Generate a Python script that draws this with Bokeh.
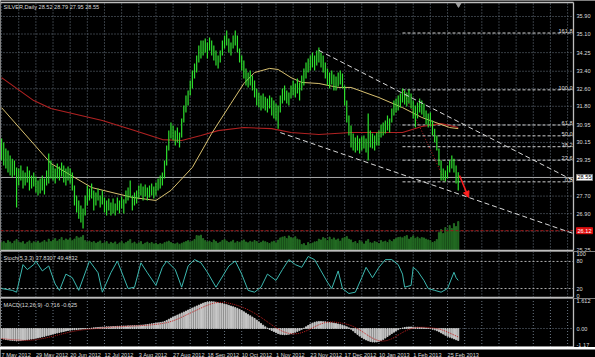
import numpy as np
from bokeh.plotting import figure
from bokeh.models import Range1d, Label, Arrow, NormalHead
from bokeh.layouts import column
from bokeh.embed import file_html
from bokeh.resources import INLINE
from bokeh.core.properties import value

# ---------------- data ----------------
TITLE = "SILVER,Daily 28.52 28.79 27.95 28.55"
STOCH_TITLE = "Stoch(5,3,3) 37.8307 49.4832"
MACD_TITLE = "MACD(12,26,9) -0.716 -0.625"

DATE_LABELS = ["7 May 2012", "29 May 2012", "20 Jun 2012", "12 Jul 2012", "3 Aug 2012",
               "27 Aug 2012", "18 Sep 2012", "10 Oct 2012", "1 Nov 2012", "23 Nov 2012",
               "17 Dec 2012", "10 Jan 2013", "1 Feb 2013", "25 Feb 2013"]
DATE_BARS = [0, 16, 32, 48, 64, 80, 96, 112, 128, 144, 160, 176, 192, 208]

HIGH = [30.33, 30.15, 29.87, 29.78, 29.55, 29.41, 29.32, 29.01, 28.96, 29.10,
        28.87, 28.78, 29.05, 28.87, 28.64, 28.78, 28.60, 28.41, 28.50, 28.64,
        28.50, 28.87, 29.64, 29.32, 29.10, 28.96, 29.19, 29.05, 29.23, 29.10,
        28.96, 29.05, 28.96, 28.78, 28.18, 27.73, 27.50, 27.27, 27.13, 27.73,
        28.18, 28.05, 28.27, 27.95, 27.86, 28.05, 27.73, 27.95, 27.64, 27.50,
        27.59, 27.41, 27.59, 27.36, 27.64, 27.50, 27.68, 27.55, 27.95, 28.09,
        28.41, 27.73, 27.86, 27.95, 28.18, 28.27, 28.14, 28.23, 28.09, 28.18,
        28.27, 28.14, 28.32, 28.50, 28.64, 28.78, 29.32, 30.01, 30.69, 31.06,
        30.92, 30.69, 30.83, 30.60, 31.24, 31.84, 32.29, 32.52, 32.98, 33.43,
        33.75, 34.12, 34.58, 34.80, 34.80, 34.90, 34.71, 34.94, 34.80, 34.58,
        34.35, 34.12, 34.35, 34.80, 35.03, 35.26, 34.90, 34.71, 35.03, 35.26,
        35.03, 34.44, 34.12, 33.89, 33.52, 33.34, 33.43, 33.21, 32.98, 32.61,
        32.43, 32.29, 32.38, 32.24, 32.15, 32.29, 32.20, 32.06, 31.93, 31.84,
        32.29, 32.61, 32.75, 32.52, 32.43, 32.75, 32.98, 32.84, 33.07, 32.89,
        33.21, 33.52, 33.80, 33.98, 34.12, 34.26, 34.12, 34.35, 34.48, 34.26,
        34.12, 33.80, 33.52, 33.34, 33.43, 33.25, 33.16, 33.34, 33.43, 33.30,
        32.75, 32.06, 31.38, 30.92, 30.56, 30.37, 30.47, 30.33, 30.42, 30.47,
        30.33, 31.47, 30.69, 30.56, 30.47, 30.60, 30.69, 30.97, 31.06, 31.15,
        31.38, 31.24, 31.70, 32.06, 32.15, 32.29, 32.38, 32.61, 32.52, 32.43,
        32.57, 32.38, 32.06, 31.84, 31.97, 32.15, 32.06, 31.93, 31.61, 31.47,
        31.52, 31.15, 30.78, 30.47, 29.87, 29.32, 28.96, 28.87, 29.10, 29.32,
        29.55, 29.41, 29.10, 28.79]

LOW = [29.32, 29.10, 28.96, 28.78, 28.64, 28.55, 28.64, 27.18, 28.18, 28.41,
       28.05, 28.18, 28.32, 27.95, 28.05, 28.14, 27.86, 27.73, 27.82, 27.95,
       27.77, 28.18, 28.27, 28.50, 28.41, 28.27, 28.50, 28.41, 28.60, 28.32,
       28.18, 28.41, 28.27, 27.95, 27.27, 26.95, 26.67, 26.49, 26.22, 26.81,
       27.27, 27.50, 27.59, 27.04, 27.27, 27.50, 27.18, 27.32, 26.95, 26.81,
       27.04, 26.81, 26.90, 26.81, 27.04, 26.90, 27.13, 26.90, 27.36, 27.50,
       27.64, 27.04, 27.27, 27.36, 27.59, 27.73, 27.50, 27.68, 27.50, 27.64,
       27.73, 27.59, 27.73, 27.95, 28.05, 28.18, 28.50, 29.10, 29.78, 30.33,
       30.24, 30.01, 30.15, 29.92, 30.37, 31.06, 31.52, 31.84, 32.29, 32.61,
       33.07, 33.34, 33.80, 33.98, 34.12, 34.26, 33.98, 34.35, 34.12, 33.89,
       33.66, 33.53, 33.80, 34.12, 34.44, 34.58, 34.26, 34.12, 34.44, 34.58,
       34.26, 33.80, 33.43, 33.07, 32.75, 32.66, 32.75, 32.52, 32.20, 31.84,
       31.74, 31.61, 31.70, 31.61, 31.52, 31.70, 31.38, 31.24, 31.15, 30.78,
       31.52, 31.93, 32.06, 31.93, 31.84, 32.15, 32.29, 32.20, 32.38, 32.06,
       32.52, 32.75, 33.07, 33.34, 33.43, 33.57, 33.43, 33.66, 33.80, 33.57,
       33.34, 33.07, 32.75, 32.61, 32.80, 32.52, 32.52, 32.70, 32.80, 32.61,
       31.84, 31.06, 30.47, 29.92, 29.78, 29.69, 29.78, 29.64, 29.78, 29.87,
       29.69, 29.32, 29.92, 29.87, 29.78, 30.01, 30.01, 30.37, 30.47, 30.56,
       30.69, 30.60, 31.06, 31.38, 31.52, 31.61, 31.74, 31.97, 31.88, 31.79,
       31.93, 31.70, 31.24, 30.83, 31.24, 31.52, 31.43, 31.29, 30.97, 30.83,
       30.88, 30.47, 30.15, 29.78, 29.10, 28.41, 28.41, 28.37, 28.50, 28.78,
       28.96, 28.78, 28.27, 27.95]

VOLUME = [45, 50, 42, 55, 48, 40, 52, 60, 47, 44,
          50, 38, 46, 53, 41, 49, 45, 52, 43, 48,
          55, 47, 62, 50, 58, 65, 52, 60, 70, 55,
          63, 58, 66, 54, 62, 75, 68, 72, 80, 55,
          48, 52, 45, 50, 42, 47, 53, 40, 44, 50,
          38, 46, 41, 48, 36, 43, 50, 39, 45, 52,
          60, 41, 47, 38, 44, 50, 36, 42, 47, 40,
          45, 38, 42, 35, 40, 37, 44, 48, 52, 45,
          40, 38, 43, 36, 41, 46, 50, 55, 48, 52,
          60, 80, 78, 82, 65, 55, 48, 52, 45, 58,
          50, 42, 47, 55, 60, 52, 45, 49, 56, 43,
          50, 46, 53, 58, 48, 44, 51, 47, 55, 50,
          42, 46, 53, 49, 45, 40, 48, 52, 44, 57,
          68, 72, 75, 65, 78, 70, 66, 74, 62, 58,
          35, 40, 30, 45, 38, 42, 48, 50, 62, 58,
          70, 65, 55, 72, 60, 68, 58, 63, 52, 66,
          70, 75, 62, 58, 45, 50, 40, 55, 48, 38,
          52, 60, 44, 42, 50, 46, 40, 55, 48, 52,
          45, 58, 50, 60, 65, 70, 72, 68, 75, 80,
          62, 70, 78, 66, 72, 64, 70, 68, 62, 58,
          55, 45, 50, 60, 95, 110, 90, 120, 100, 130,
          115, 140, 125, 150]

MACD = [-0.60, -0.63, -0.66, -0.68, -0.70, -0.71, -0.72, -0.74, -0.73, -0.72,
        -0.70, -0.69, -0.67, -0.65, -0.63, -0.61, -0.58, -0.56, -0.53, -0.50,
        -0.47, -0.43, -0.40, -0.37, -0.33, -0.30, -0.27, -0.24, -0.21, -0.18,
        -0.15, -0.12, -0.10, -0.08, -0.07, -0.06, -0.05, -0.04, -0.03, -0.02,
        -0.01, 0.00, 0.02, 0.04, 0.05, 0.06, 0.07, 0.08, 0.09, 0.10,
        0.10, 0.11, 0.12, 0.12, 0.13, 0.13, 0.14, 0.15, 0.15, 0.16,
        0.16, 0.17, 0.18, 0.18, 0.19, 0.20, 0.21, 0.22, 0.24, 0.26,
        0.28, 0.30, 0.32, 0.34, 0.36, 0.38, 0.42, 0.48, 0.55, 0.62,
        0.68, 0.74, 0.80, 0.86, 0.92, 0.98, 1.04, 1.10, 1.16, 1.22,
        1.28, 1.34, 1.40, 1.46, 1.51, 1.55, 1.58, 1.60, 1.60, 1.59,
        1.57, 1.55, 1.52, 1.49, 1.46, 1.42, 1.38, 1.34, 1.30, 1.25,
        1.20, 1.14, 1.07, 1.00, 0.92, 0.84, 0.76, 0.68, 0.60, 0.50,
        0.40, 0.30, 0.20, 0.10, 0.02, -0.05, -0.12, -0.18, -0.24, -0.30,
        -0.34, -0.36, -0.37, -0.36, -0.34, -0.31, -0.27, -0.22, -0.17, -0.11,
        -0.05, 0.02, 0.10, 0.18, 0.26, 0.32, 0.37, 0.40, 0.42, 0.42,
        0.41, 0.40, 0.38, 0.36, 0.34, 0.32, 0.30, 0.27, 0.24, 0.20,
        0.15, 0.10, 0.04, -0.04, -0.14, -0.25, -0.35, -0.45, -0.54, -0.62,
        -0.68, -0.73, -0.77, -0.80, -0.81, -0.80, -0.77, -0.72, -0.65, -0.57,
        -0.48, -0.39, -0.30, -0.22, -0.14, -0.07, -0.01, 0.03, 0.06, 0.08,
        0.09, 0.09, 0.08, 0.07, 0.07, 0.06, 0.05, 0.04, 0.03, 0.01,
        -0.01, -0.04, -0.08, -0.13, -0.19, -0.26, -0.33, -0.40, -0.46, -0.52,
        -0.57, -0.62, -0.67, -0.716]

STOCH_BAR = [0, 5, 7, 10, 12, 15, 16, 19, 22, 25, 27, 30, 33, 36, 41, 45, 47, 51, 54, 59,
             62, 65, 68, 72, 75, 77, 81, 84, 87, 90, 93, 96, 100, 106, 109, 112, 115, 118, 121, 124,
             128, 131, 134, 137, 140, 143, 146, 149, 152, 154, 157, 159, 162, 165, 168, 170, 173, 176, 179, 182,
             185, 187, 188, 191, 192, 194, 197, 199, 202, 205, 208, 211, 212, 213]
STOCH_VAL = [20, 16, 12, 73, 62, 73, 81, 59, 70, 30, 16, 52, 44, 16, 81, 55, 12, 55, 81, 20,
             23, 77, 55, 27, 67, 81, 62, 23, 70, 84, 77, 56, 23, 70, 81, 52, 16, 12, 23, 52,
             38, 62, 84, 73, 67, 91, 84, 59, 34, 20, 59, 20, 9, 12, 44, 67, 44, 67, 84, 84,
             73, 52, 23, 27, 67, 59, 38, 20, 16, 12, 20, 56, 44, 38]

MA_FAST_BAR = [0, 23, 42, 61, 72, 79, 89, 98, 107, 113, 118, 125, 129, 135, 140, 148, 157, 163, 176, 187, 196, 209, 213]
MA_FAST_VAL = [31.74, 29.19, 28.09, 27.64, 27.50, 27.96, 29.01, 30.56, 31.93, 32.84, 33.34, 33.53, 33.48,
               33.11, 32.89, 32.84, 32.66, 32.66, 32.20, 31.74, 31.29, 30.83, 30.78]
MA_SLOW_BAR = [0, 15, 23, 47, 62, 75, 84, 93, 101, 113, 126, 135, 148, 163, 187, 196, 205, 213]
MA_SLOW_VAL = [33.11, 32.06, 31.70, 31.15, 30.69, 30.28, 30.24, 30.47, 30.69, 30.83, 30.78, 30.60,
               30.51, 30.60, 30.60, 30.88, 31.01, 30.83]

PRICE_TICKS = [35.90, 35.10, 34.25, 33.40, 32.60, 31.80, 30.95, 30.15, 29.35, 27.70, 26.90]
PRICE_BOTTOM = 25.25
BID = 28.55
ALERT = 26.12
FIB_LEVELS = [161.8, 100.0, 61.8, 50.0, 38.2, 23.6, 0.0]
FIB_LOW, FIB_HIGH = 28.35, 32.55
FIB_BARS = [187, 207]
CH_UP_BAR, CH_UP_VAL = [148, 266.75], [34.35, 28.41]
CH_LO_BAR, CH_LO_VAL = [130, 266.75], [30.60, 25.99]
ARROW_BAR, ARROW_VAL = [213.6, 217.8], [28.64, 27.64]
STOCH_LEVELS = [20, 80]
MACD_LABELS = [1.612, 0.00, -1.17]

# ---------------- layout helpers ----------------
W = 595
PXB = 2.144
X0 = -0.5
xr = Range1d(X0, X0 + W / PXB)


def bx(px):
    return X0 + px / PXB


BORDER = bx(573)
LBL_X = bx(576)
FONT = value("Liberation Sans")
FS = "5.6px"
TXT = "#dcdcdc"
GRIDC = "#6b7784"
BORDC = "#bdbdbd"


def mkfig(h, yr):
    return figure(width=W, height=h, x_range=xr, y_range=yr, x_axis_type=None, y_axis_type=None,
                  toolbar_location=None, output_backend="svg", min_border=0,
                  background_fill_color="black", border_fill_color="black",
                  outline_line_color=None)


def yat(p, h, py):
    r = p.y_range
    return r.end - py * (r.end - r.start) / h


def txt(p, x, y, t, align="left", base="middle", color=TXT):
    p.text(x=x, y=y, text=t, text_align=align, text_baseline=base, text_color=color,
           text_font=FONT, text_font_size=FS)


n = min(len(HIGH), len(LOW), len(VOLUME), len(MACD))
idx = list(range(n))
GRID_BARS = list(range(0, 266, 8))

# ---------------- main price panel ----------------
H1 = 251
p1 = mkfig(H1, Range1d(25.17, 36.63))
top1, bot1 = yat(p1, H1, 2), yat(p1, H1, 250)
p1.segment(x0=GRID_BARS, y0=bot1, x1=GRID_BARS, y1=top1, line_color=GRIDC, line_dash="1 2")
grid_prices = PRICE_TICKS + [BID, 26.10]
p1.segment(x0=X0, y0=grid_prices, x1=BORDER, y1=grid_prices, line_color=GRIDC, line_dash="1 2")

p1.extra_y_ranges = {"vol": Range1d(0, 1255)}
p1.vbar(x=idx, bottom=0, top=VOLUME[:n], width=0.5, color="#236b23", y_range_name="vol")

p1.segment(x0=X0, y0=ALERT, x1=BORDER, y1=ALERT, line_color="#a01818", line_dash="3 2")
p1.segment(x0=X0, y0=BID, x1=BORDER, y1=BID, line_color="#a8a8a8")

fib_prices = [FIB_LOW + l / 100.0 * (FIB_HIGH - FIB_LOW) for l in FIB_LEVELS]
p1.segment(x0=FIB_BARS[0], y0=fib_prices, x1=BORDER, y1=fib_prices, line_color="#d0d0d0", line_dash="3 2")
txt(p1, bx(572), fib_prices, [f"{l:.1f}" for l in FIB_LEVELS], align="right", base="bottom")
p1.line(FIB_BARS, [FIB_HIGH, FIB_LOW], line_color="#c02020", line_dash="1 2")

p1.line(MA_SLOW_BAR, MA_SLOW_VAL, line_color="#b02222", line_width=1.1)
p1.line(MA_FAST_BAR, MA_FAST_VAL, line_color="#d8c070", line_width=1.0)

p1.segment(x0=idx, y0=LOW[:n], x1=idx, y1=HIGH[:n], line_color="#2ee02e", line_width=1.2)

p1.line(CH_UP_BAR, CH_UP_VAL, line_color="#d8d8d8", line_dash="5 3")
p1.line(CH_LO_BAR, CH_LO_VAL, line_color="#d8d8d8", line_dash="5 3")
p1.add_layout(Arrow(end=NormalHead(size=6, fill_color="#ff2020", line_color="#ff2020"),
                    x_start=ARROW_BAR[0], y_start=ARROW_VAL[0], x_end=ARROW_BAR[1], y_end=ARROW_VAL[1],
                    line_color="#ff2020", line_width=1.5))

p1.segment(x0=X0, y0=[top1, bot1], x1=BORDER, y1=[top1, bot1], line_color=BORDC, line_width=1.3)
p1.segment(x0=BORDER, y0=bot1, x1=BORDER, y1=top1, line_color=BORDC, line_width=1.3)
p1.scatter(x=[bx(458)], y=[yat(p1, H1, 4)], marker="inverted_triangle", size=5, color="#a0a0a0")

txt(p1, LBL_X, PRICE_TICKS, [f"{v:.2f}" for v in PRICE_TICKS])
txt(p1, LBL_X, [yat(p1, H1, 251)], [f"{PRICE_BOTTOM:.2f}"], base="bottom")
p1.add_layout(Label(x=LBL_X, y=BID, text=f"{BID:.2f}", text_color="black", text_font="Liberation Sans",
                    text_font_size=FS, text_baseline="middle", background_fill_color="white",
                    border_line_color="#888888", padding=1))
p1.add_layout(Label(x=LBL_X, y=ALERT, text=f"{ALERT:.2f}", text_color="white", text_font="Liberation Sans",
                    text_font_size=FS, text_baseline="middle", background_fill_color="#e01010",
                    border_line_color="#e01010", padding=1))
txt(p1, bx(3), yat(p1, H1, 6), [TITLE])

# ---------------- stochastic panel ----------------
H2 = 47
p2 = mkfig(H2, Range1d(-2, 102))
bot2 = yat(p2, H2, 46)
p2.segment(x0=GRID_BARS, y0=bot2, x1=GRID_BARS, y1=102, line_color=GRIDC, line_dash="1 2")
p2.segment(x0=X0, y0=STOCH_LEVELS, x1=BORDER, y1=STOCH_LEVELS, line_color="#b0b0b0", line_dash="2 2")
p2.line(STOCH_BAR, STOCH_VAL, line_color="#3cb8b0", line_width=1)
p2.segment(x0=X0, y0=bot2, x1=BORDER, y1=bot2, line_color=BORDC, line_width=1.3)
p2.segment(x0=BORDER, y0=bot2, x1=BORDER, y1=102, line_color=BORDC, line_width=1.3)
txt(p2, LBL_X, [102], ["100"], base="top")
txt(p2, LBL_X, [80, 20], ["80", "20"])
txt(p2, LBL_X, [yat(p2, H2, 46)], ["0"], base="bottom")
txt(p2, bx(3), yat(p2, H2, 6), [STOCH_TITLE])

# ---------------- MACD panel ----------------
H3 = 49
p3 = mkfig(H3, Range1d(-1.134, 1.791))
bot3 = yat(p3, H3, 48.5)
p3.segment(x0=GRID_BARS, y0=bot3, x1=GRID_BARS, y1=1.791, line_color=GRIDC, line_dash="1 2")
p3.segment(x0=X0, y0=0, x1=BORDER, y1=0, line_color=GRIDC, line_dash="1 2")
p3.vbar(x=idx, bottom=0, top=MACD[:n], width=0.5, color="#c8c8c8")
sig = np.convolve(np.array(MACD[:n]), np.ones(9) / 9.0, mode="full")[:n]
cnt = np.minimum(np.arange(1, n + 1), 9)
sig = sig * 9.0 / cnt
p3.line(idx, sig, line_color="#c02020", line_dash="1 1", line_width=1)
p3.segment(x0=X0, y0=bot3, x1=BORDER, y1=bot3, line_color=BORDC, line_width=1.3)
p3.segment(x0=BORDER, y0=bot3, x1=BORDER, y1=1.791, line_color=BORDC, line_width=1.3)
txt(p3, LBL_X, [MACD_LABELS[0], MACD_LABELS[1]], [f"{MACD_LABELS[0]:.3f}", f"{MACD_LABELS[1]:.2f}"])
txt(p3, LBL_X, [yat(p3, H3, 48)], [f"{MACD_LABELS[2]:.2f}"], base="bottom")
txt(p3, bx(3), yat(p3, H3, 6), [MACD_TITLE])

# ---------------- date axis ----------------
H4 = 10
p4 = mkfig(H4, Range1d(0, 1))
txt(p4, DATE_BARS, 0.5, DATE_LABELS)

layout = column(p1, p2, p3, p4, spacing=0)
open("out.html", "w").write(file_html(layout, INLINE))
